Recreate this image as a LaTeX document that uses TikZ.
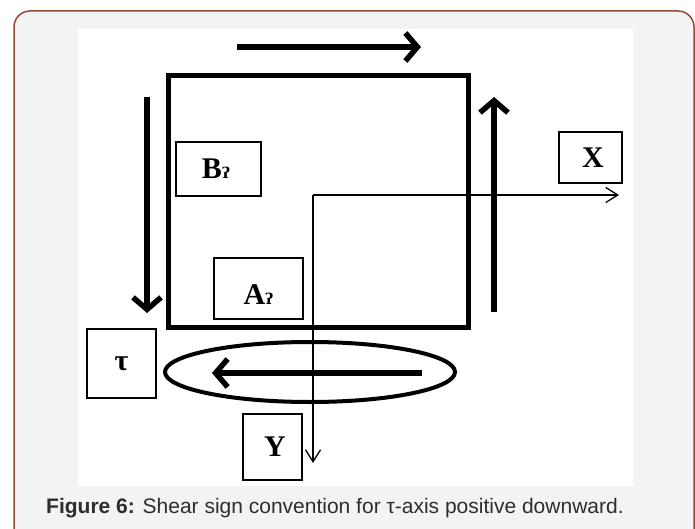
\documentclass[tikz,border=0pt]{standalone}
\usepackage{fontspec}
\setmainfont{Liberation Serif}
\newfontfamily\capfont{Liberation Sans}
\newfontfamily\glyphfont{DejaVu Serif}
\usetikzlibrary{positioning, arrows.meta, shapes.geometric}
\definecolor{frameRed}{RGB}{150, 75, 55}
\definecolor{panelGray}{RGB}{243, 243, 243}
\definecolor{capText}{RGB}{45, 45, 45}
\newcommand{\hook}{{\glyphfont\fontsize{15}{15}\selectfont ʔ}}

\begin{document}
\begin{tikzpicture}[x=1pt, y=-1pt,
          lbox/.style={draw, line width=1.2pt, inner sep=0pt,
                       font=\fontsize{30}{30}\selectfont\bfseries},
          shear/.style={line width=5.5pt,
                        -{Straight Barb[length=12pt, width=28pt]}},
          axis/.style={line width=1.3pt,
                       -{Straight Barb[length=12pt, width=15pt]}}
        ]
        \clip (0,0) rectangle (695,529);
        \useasboundingbox (0,0) rectangle (695,529);
        % page frame and white panel
        \draw[frameRed, fill=panelGray, line width=1.5pt, rounded corners=16pt]
              (14,11) rectangle (694,560);
        \fill[white] (78,29) rectangle (633,486);

        % element and stress circle
        \node[draw, line width=5pt, minimum width=300pt, minimum height=251pt]
              (elem) at (318,201.5) {};
        \node[draw, ellipse, line width=4pt, minimum width=290pt,
              minimum height=60pt] (circ) at (310,372) {};

        % label boxes
        \node[lbox, minimum width=85pt, minimum height=54pt] (boxB) at (218.5,169) {B\hook\,};
        \node[lbox, minimum width=89pt, minimum height=61pt, text height=32pt]
              (boxA) at (258.5,288.5) {A\hook};
        \node[lbox, minimum width=63pt, minimum height=51pt] (boxX) at (590.5,157.5) {\,X};
        \node[lbox, minimum width=59pt, minimum height=66pt] (boxY) at (272.5,447) {\,Y};
        \node[lbox, minimum width=69pt, minimum height=69pt] (boxT) at (121.5,363.5) {τ};

        % shear arrows
        \coordinate (topS) at (237,47);  \coordinate (topE) at (421,47);
        \coordinate (lftS) at (147,97);  \coordinate (lftE) at (147,313);
        \coordinate (rgtS) at (494,312); \coordinate (rgtE) at (494,97);
        \coordinate (botS) at (422,373); \coordinate (botE) at (212,373);
        \draw[shear] (topS) -- (topE);
        \draw[shear] (lftS) -- (lftE);
        \draw[shear] (rgtS) -- (rgtE);
        \draw[shear] (botS) -- (botE);

        % axes
        \coordinate (orig) at (313,195);
        \coordinate (xEnd) at (619,195);
        \coordinate (yEnd) at (313,463);
        \draw[axis] (orig) -- (xEnd);
        \draw[axis] (orig) -- (yEnd);

        \node[anchor=west, text=capText, inner sep=0pt,
              font=\capfont\fontsize{21}{22}\selectfont] (cap) at (46,508)
              {\textbf{Figure 6:} Shear sign convention for τ-axis positive downward.};
      \end{tikzpicture}
\end{document}
